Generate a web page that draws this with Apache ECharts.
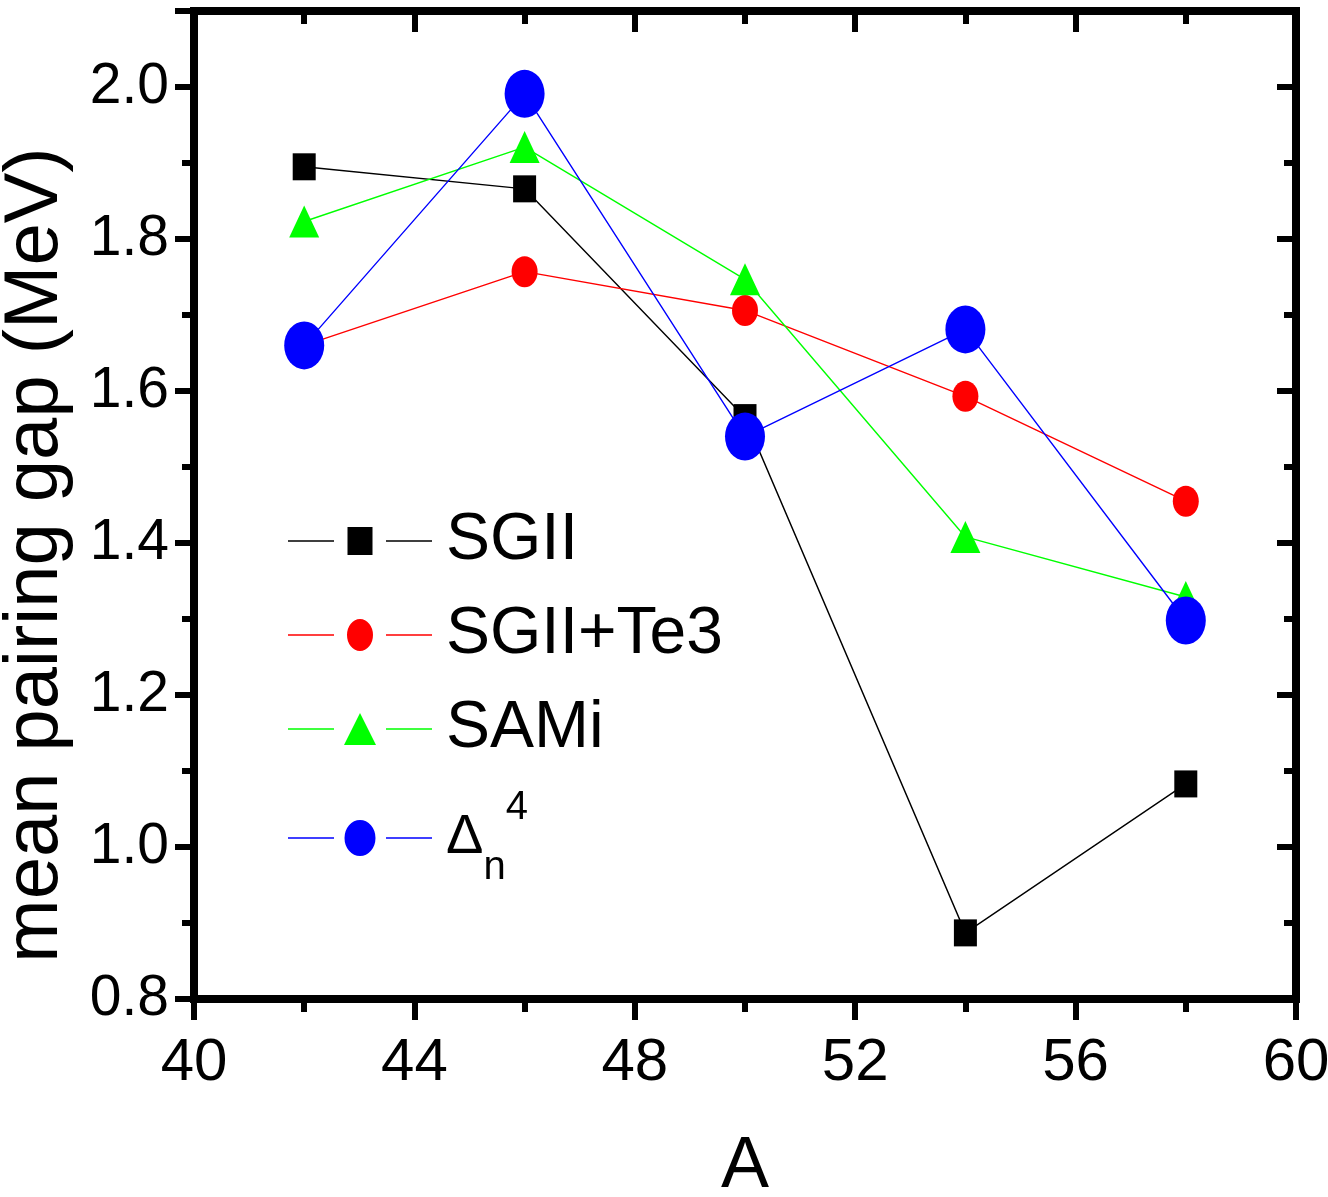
<!DOCTYPE html>
<html>
<head>
<meta charset="utf-8">
<script src="https://cdn.jsdelivr.net/npm/echarts@6/dist/echarts.min.js"></script>
<style>
html,body{margin:0;padding:0;background:#fff;}
#chart{width:1328px;height:1197px;}
</style>
</head>
<body>
<div id="chart"></div>
<script>
// ---- data ----
var massA = [42, 46, 50, 54, 58];
var sgii = [1.895, 1.866, 1.565, 0.887, 1.083];
var sgiiTe3 = [1.660, 1.757, 1.706, 1.593, 1.455];
var sami = [1.823, 1.921, 1.747, 1.408, 1.329];
var deltaN4 = [1.660, 1.991, 1.540, 1.681, 1.298];
var seriesNames = ['SGII', 'SGII+Te3', 'SAMi', 'Δn4'];
var xTicks = {min: 40, max: 60, interval: 4};
var yTicks = {min: 0.8, max: 2.1, interval: 0.2};

function pairs(xs, ys) { return xs.map(function (x, i) { return [x, ys[i]]; }); }

var FONT = "'Liberation Sans', Arial, sans-serif";

// legend icons: short line, gap, marker, gap, short line (box 144 wide)
var seg = 'M0,-0.7 h46 v1.4 h-46 z M98,-0.7 h46 v1.4 h-46 z ';
var legendIcons = [
  'path://' + seg + 'M59.5,-14 h25 v28 h-25 z',
  'path://' + seg + 'M59,0 a13,16 0 1,0 26,0 a13,16 0 1,0 -26,0 z',
  'path://' + seg + 'M72,-16 L88,16 L56,16 z',
  'path://' + seg + 'M56.5,0 a15.5,18 0 1,0 31,0 a15.5,18 0 1,0 -31,0 z'
];

var chart = echarts.init(document.getElementById('chart'), null, {renderer: 'canvas'});

var axisLine = {show: true, lineStyle: {color: '#000', width: 8, cap: 'square'}};
function mkX(pos, showLabel) {
  return {
    type: 'value', position: pos, min: xTicks.min, max: xTicks.max, interval: xTicks.interval,
    axisLine: axisLine,
    axisTick: {show: true, inside: pos === 'top', length: 21, lineStyle: {color: '#000', width: 6}},
    minorTick: {show: true, splitNumber: 2, length: 13, lineStyle: {color: '#000', width: 6}},
    splitLine: {show: false},
    axisLabel: {show: showLabel, fontFamily: FONT, fontSize: 60, color: '#000', margin: 34},
    name: showLabel ? 'A' : '', nameLocation: 'middle', nameGap: 132,
    nameTextStyle: {fontFamily: FONT, fontSize: 72, color: '#000'}
  };
}
function mkY(pos, showLabel) {
  return {
    type: 'value', position: pos, min: yTicks.min, max: yTicks.max, interval: yTicks.interval,
    axisLine: axisLine,
    axisTick: {show: true, inside: pos === 'right', length: 19, lineStyle: {color: '#000', width: 6}},
    minorTick: {show: true, splitNumber: 2, length: 12, lineStyle: {color: '#000', width: 6}},
    splitLine: {show: false},
    axisLabel: {show: showLabel, fontFamily: FONT, fontSize: 57, color: '#000', margin: 25,
      showMaxLabel: false, formatter: function (v) { return v.toFixed(1); }},
    name: showLabel ? 'mean pairing gap (MeV)' : '', nameLocation: 'middle', nameGap: 120, nameRotate: 90,
    nameTextStyle: {fontFamily: FONT, fontSize: 76, color: '#000', padding: [0, 100, 0, 0]}
  };
}

function mkSeries(name, ys, color, symbol, size, z) {
  return {
    name: name, type: 'line', data: pairs(massA, ys),
    symbol: symbol, symbolSize: size, z: z,
    lineStyle: {color: color, width: 1.4},
    itemStyle: {color: color, opacity: 1, borderWidth: 0},
    emphasis: {disabled: true}, animation: false
  };
}

var option = {
  backgroundColor: '#fff',
  animation: false,
  grid: {left: 194, right: 32, top: 11, bottom: 198, containLabel: false, outerBoundsMode: 'none'},
  xAxis: [mkX('bottom', true), mkX('top', false)],
  yAxis: [mkY('left', true), mkY('right', false)],
  legend: {
    orient: 'vertical', left: 288, top: 506, padding: 0,
    itemWidth: 144, itemHeight: 36, itemGap: 24,
    data: seriesNames.map(function (n, i) { return {name: n, icon: legendIcons[i]}; }),
    textStyle: {fontFamily: FONT, fontSize: 66, color: '#000', lineHeight: 70, padding: [0, 0, 0, 9],
      rich: {
        d: {fontFamily: FONT, fontSize: 56, lineHeight: 50, verticalAlign: 'middle', color: '#000'},
        n: {fontFamily: FONT, fontSize: 40, lineHeight: 40, verticalAlign: 'bottom', color: '#000'},
        s: {fontFamily: FONT, fontSize: 40, lineHeight: 40, verticalAlign: 'top', color: '#000'},
        sp: {fontSize: 10, lineHeight: 100, verticalAlign: 'middle'}
      }
    },
    formatter: function (name) {
      if (name === 'Δn4') return '{d|Δ}{n|n}{s|4}{sp| }';
      return name;
    },
    selectedMode: false
  },
  series: [
    mkSeries(seriesNames[0], sgii, '#000000', 'rect', [23, 27], 2),
    mkSeries(seriesNames[1], sgiiTe3, '#ff0000', 'circle', [26, 31], 3),
    mkSeries(seriesNames[2], sami, '#00ff00', 'triangle', [30, 32], 4),
    mkSeries(seriesNames[3], deltaN4, '#0000ff', 'circle', [40, 48], 5)
  ]
};
chart.setOption(option);
</script>
</body>
</html>
